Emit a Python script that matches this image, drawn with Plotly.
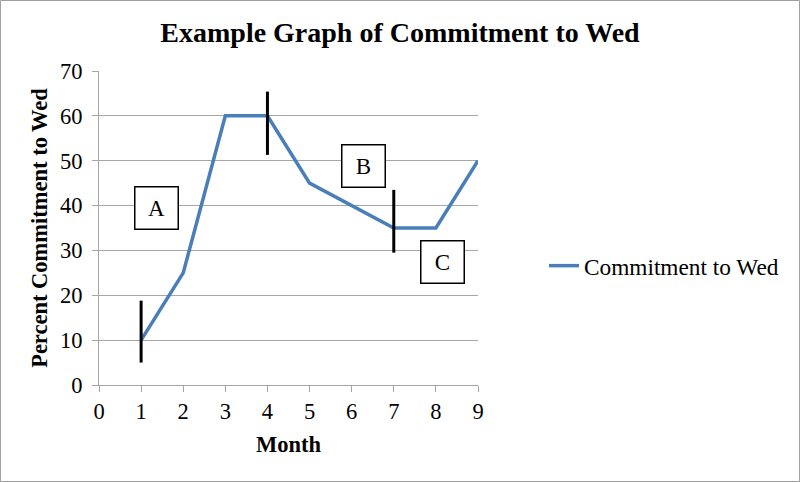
import plotly.graph_objects as go

# Data
months = [1, 2, 3, 4, 5, 6, 7, 8, 9]
commitment = [10, 25, 60, 60, 45, 40, 35, 35, 50]
series_name = "Commitment to Wed"

# phase-boundary markers (vertical bars)
marker_x = [1, 4, 7]
marker_low = [5, 51.3, 29.5]
marker_high = [18.8, 65.4, 43.5]

# labelled boxes
box_labels = ["A", "B", "C"]
box_x = [1.354, 6.27, 8.145]
box_y = [39.5, 48.9, 27.4]

x_ticks = list(range(0, 10))
y_ticks = list(range(0, 80, 10))

FONT = "Liberation Serif, Times New Roman, serif"
GRID = "#a6a6a6"

fig = go.Figure()
fig.add_trace(go.Scatter(
    x=months, y=commitment, mode="lines", name=series_name,
    line=dict(color="#4a7ebb", width=3.5),
))

mx, my = [], []
for x, lo, hi in zip(marker_x, marker_low, marker_high):
    mx += [x, x, None]
    my += [lo, hi, None]
fig.add_trace(go.Scatter(
    x=mx, y=my, mode="lines", showlegend=False,
    line=dict(color="black", width=3), hoverinfo="skip",
))

for lab, bx, by in zip(box_labels, box_x, box_y):
    fig.add_annotation(
        x=bx, y=by, xref="x", yref="y", text=lab, showarrow=False,
        font=dict(family=FONT, size=23, color="black"),
        bgcolor="white", bordercolor="black", borderwidth=1.5,
        width=40, height=39, borderpad=1,
    )

W, H = 800, 482
L, R, T, B = 99, 322, 71, 97
pw, ph = W - L - R, H - T - B

# outer chart border
fig.add_shape(
    type="rect", xref="paper", yref="paper",
    x0=(0.5 - L) / pw, x1=(W - 0.5 - L) / pw,
    y0=-(H - 0.5 - T - ph) / ph, y1=(T - 0.5) / ph + 1,
    line=dict(color="#a0a0a0", width=1), layer="below",
)

fig.update_layout(
    width=W, height=H,
    margin=dict(l=L, r=R, t=T, b=B, autoexpand=False),
    paper_bgcolor="white", plot_bgcolor="white",
    font=dict(family=FONT, color="black", size=22),
    title=dict(
        text="<b>Example Graph of Commitment to Wed</b>",
        x=0.5, xref="container", xanchor="center",
        y=1 - 32 / H, yref="container", yanchor="middle",
        font=dict(family=FONT, size=28, color="black"),
    ),
    showlegend=True,
    legend=dict(
        x=(544 - L) / pw, xanchor="left",
        y=(385 - 266) / ph, yanchor="middle",
        font=dict(family=FONT, size=23.3, color="black"),
        bgcolor="rgba(0,0,0,0)",
    ),
    xaxis=dict(
        range=[0, 9], tickvals=x_ticks, ticktext=[str(v) for v in x_ticks],
        showgrid=False, zeroline=False,
        showline=True, linecolor=GRID, linewidth=1,
        ticks="outside", ticklen=6, tickcolor=GRID, tickwidth=1,
        tickfont=dict(family=FONT, size=22.5),
        title=dict(text="<b>Month</b>", font=dict(family=FONT, size=22.5), standoff=13),
        fixedrange=True,
    ),
    yaxis=dict(
        range=[0, 70], tickvals=y_ticks,
        showgrid=True, gridcolor=GRID, gridwidth=1, zeroline=False,
        showline=True, linecolor=GRID, linewidth=1,
        ticks="outside", ticklen=6, tickcolor=GRID, tickwidth=1,
        ticklabelstandoff=5,
        tickfont=dict(family=FONT, size=22.5),
        title=dict(text="<b>Percent Commitment to Wed</b>", font=dict(family=FONT, size=22.5), standoff=6),
        fixedrange=True,
    ),
)

fig.write_html(
    "out.html",
    config={"displayModeBar": False},
    post_script="document.body.style.margin='0';document.body.style.padding='0';",
)
